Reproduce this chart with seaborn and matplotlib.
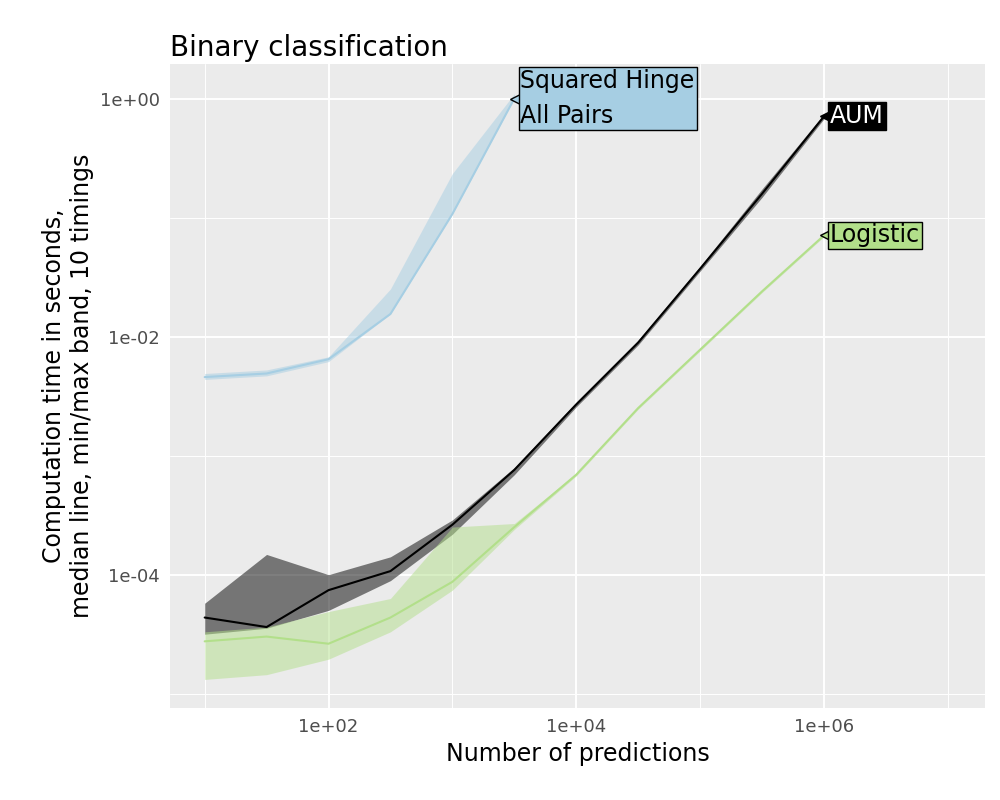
import numpy as np
import seaborn as sns
import matplotlib.pyplot as plt
from matplotlib.ticker import NullFormatter

n_pred = [10, 31.6, 100, 316, 1000, 3162, 1e4, 31623, 1e5, 316228, 1e6]

hinge_med = [-2.34, -2.31, -2.19, -1.81, -0.97, 0.0]
hinge_min = [-2.36, -2.33, -2.21, -1.81, -0.97, 0.0]
hinge_max = [-2.31, -2.28, -2.17, -1.60, -0.63, 0.04]

aum_med = [-4.36, -4.44, -4.13, -3.97, -3.58, -3.12, -2.57, -2.05, -1.43, -0.80, -0.15]
aum_min = [-4.50, -4.45, -4.30, -4.05, -3.66, -3.16, -2.59, -2.07, -1.45, -0.83, -0.17]
aum_max = [-4.24, -3.83, -4.00, -3.85, -3.54, -3.10, -2.55, -2.03, -1.41, -0.76, -0.13]

log_med = [-4.56, -4.52, -4.58, -4.36, -4.06, -3.60, -3.16, -2.60, -2.11, -1.62, -1.15]
log_min = [-4.88, -4.84, -4.71, -4.48, -4.13, -3.62, -3.17, -2.61, -2.12, -1.63, -1.16]
log_max = [-4.48, -4.44, -4.31, -4.20, -3.60, -3.57, -3.15, -2.59, -2.10, -1.61, -1.14]

series = [
    ("Squared Hinge\nAll Pairs", hinge_med, hinge_min, hinge_max, "#A6CEE3", "black"),
    ("AUM", aum_med, aum_min, aum_max, "black", "white"),
    ("Logistic", log_med, log_min, log_max, "#B2DF8A", "black"),
]

sns.set_theme(style="darkgrid", rc={"axes.facecolor": "#EBEBEB", "grid.color": "white"})
fig, ax = plt.subplots(figsize=(10, 8), dpi=100)

for name, med, lo, hi, col, tcol in series:
    x = n_pred[:len(med)]
    ax.fill_between(x, 10 ** np.array(lo), 10 ** np.array(hi), color=col,
                    alpha=0.5, linewidth=0)
    sns.lineplot(x=x, y=10 ** np.array(med), color=col, ax=ax, linewidth=1.5)
    ax.plot([x[-1] * 1.03], [10 ** med[-1]], marker="<", markersize=9,
            color=col, markeredgecolor="black", markeredgewidth=1, zorder=5)
    ax.text(x[-1] * 1.12, 10 ** med[-1], name, fontsize=17, color=tcol,
            va="center", ha="left", zorder=6,
            linespacing=1.6 if "\n" in name else 1.2,
            bbox=dict(boxstyle="square,pad=0.08", fc=col, ec="black", lw=1))

ax.set_xscale("log")
ax.set_yscale("log")
ax.set_xlim(10 ** 0.72, 10 ** 7.3)
ax.set_ylim(10 ** -5.12, 10 ** 0.29)
ax.set_xticks([1e2, 1e4, 1e6])
ax.set_xticklabels(["1e+02", "1e+04", "1e+06"])
ax.set_yticks([1e-4, 1e-2, 1e0])
ax.set_yticklabels(["1e-04", "1e-02", "1e+00"])
ax.set_xticks([1e1, 1e3, 1e5, 1e7], minor=True)
ax.set_yticks([1e-5, 1e-3, 1e-1], minor=True)
ax.xaxis.set_minor_formatter(NullFormatter())
ax.yaxis.set_minor_formatter(NullFormatter())
ax.grid(which="major", color="white", linewidth=1.4)
ax.grid(which="minor", color="white", linewidth=0.7)
ax.tick_params(which="minor", length=0)
ax.tick_params(which="major", labelsize=13, colors="#4D4D4D", length=4)
for s in ax.spines.values():
    s.set_visible(False)
ax.set_xlabel("Number of predictions", fontsize=17, color="black")
ax.set_ylabel("Computation time in seconds,\nmedian line, min/max band, 10 timings",
              fontsize=17, color="black")
ax.set_title("Binary classification", fontsize=20, loc="left", color="black")
fig.subplots_adjust(left=0.17, right=0.985, top=0.92, bottom=0.115)
fig.savefig("out.png")
